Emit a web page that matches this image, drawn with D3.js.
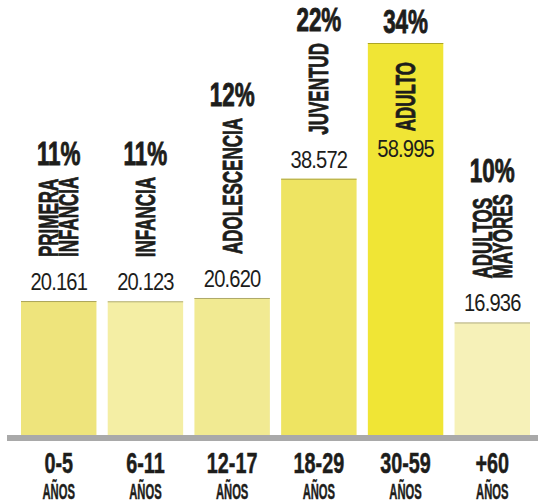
<!DOCTYPE html>
<html>
<head>
<meta charset="utf-8">
<script src="https://cdn.jsdelivr.net/npm/d3@7"></script>
<style>
  html, body { margin: 0; padding: 0; background: #fff; }
  svg { display: block; }
</style>
</head>
<body>
<div id="chart"></div>
<script>
// data
const categories = ["0-5", "6-11", "12-17", "18-29", "30-59", "+60"];
const groupNames = [["PRIMERA", "INFANCIA"], ["INFANCIA"], ["ADOLESCENCIA"], ["JUVENTUD"], ["ADULTO"], ["ADULTOS", "MAYORES"]];
const population = [20161, 20123, 20620, 38572, 58995, 16936];
const shares = [11, 11, 12, 22, 34, 10];
const unitLabel = "AÑOS";
const barColors = ["#eee47c", "#f4eea4", "#f1ea92", "#eee462", "#f0e535", "#f6f1b8"];

const width = 538;
const height = 504;
const ink = "#1d1d1b";
const font = "'Liberation Sans', Arial, sans-serif";

const fmt = d3.formatLocale({ decimal: ",", thousands: ".", grouping: [3], currency: ["", ""] }).format(",");

const svg = d3.select("#chart")
  .append("svg")
    .attr("width", width)
    .attr("height", height)
    .attr("font-family", font);

const x = d3.scaleBand()
  .domain(categories)
  .range([21, 530])
  .paddingInner(0.13);

const y = d3.scaleLinear()
  .domain([0, d3.max(population)])
  .range([435, 43]);

const data = categories.map((c, i) => ({
  cat: c, name: groupNames[i], value: population[i], share: shares[i], color: barColors[i]
}));

// bars
svg.append("g")
  .selectAll("rect")
  .data(data)
  .join("rect")
    .attr("x", d => x(d.cat))
    .attr("y", d => y(d.value))
    .attr("width", x.bandwidth())
    .attr("height", d => y(0) - y(d.value))
    .attr("fill", d => d.color);

// thin top edge on each bar
svg.append("g")
  .selectAll("line")
  .data(data)
  .join("line")
    .attr("x1", d => x(d.cat))
    .attr("x2", d => x(d.cat) + x.bandwidth())
    .attr("y1", d => y(d.value) + 0.5)
    .attr("y2", d => y(d.value) + 0.5)
    .attr("stroke", d => d3.color(d.color).darker(1.2))
    .attr("stroke-opacity", 0.8)
    .attr("stroke-width", 1);

// grey baseline
svg.append("rect")
  .attr("x", 7)
  .attr("y", y(0))
  .attr("width", width - 7)
  .attr("height", 6)
  .attr("fill", "#a9a9a9");

// x axis labels
const xAxis = svg.append("g")
  .selectAll("g")
  .data(data)
  .join("g")
    .attr("transform", d => `translate(${x(d.cat) + x.bandwidth() / 2},0)`);

xAxis.append("text")
  .attr("transform", "translate(0,473) scale(0.66,1)")
  .attr("text-anchor", "middle")
  .attr("font-size", 30)
  .attr("font-weight", 700)
  .attr("fill", ink)
  .attr("stroke", ink)
  .attr("stroke-width", 0.5)
  .text(d => d.cat);

xAxis.append("text")
  .attr("transform", "translate(0,499) scale(0.51,1)")
  .attr("text-anchor", "middle")
  .attr("font-size", 22)
  .attr("font-weight", 700)
  .attr("fill", ink)
  .attr("stroke", ink)
  .attr("stroke-width", 0.5)
  .text(unitLabel);

// labels stacked over each bar
const catScale = 0.63;
const catSize = 27;
const catCap = 19;
const lineStep = 20;

const labels = svg.append("g")
  .selectAll("g")
  .data(data)
  .join("g");

labels.each(function(d) {
  const g = d3.select(this);
  const cx = x(d.cat) + x.bandwidth() / 2;
  const top = y(d.value);

  const value = g.append("text")
    .attr("text-anchor", "middle")
    .attr("font-size", 24)
    .attr("letter-spacing", -1)
    .attr("fill", ink)
    .text(fmt(d.value));

  const nameG = g.append("g");
  const nameText = nameG.append("text")
    .attr("transform", `scale(${catScale},1)`)
    .attr("font-size", catSize)
    .attr("font-weight", 700)
    .attr("fill", ink)
    .attr("stroke", ink)
    .attr("stroke-width", 0.8);
  const n = d.name.length;
  const firstY = n === 1 ? catCap / 2 : (catCap - lineStep * (n - 1)) / 2;
  const spans = nameText.selectAll("tspan")
    .data(d.name)
    .join("tspan")
      .attr("x", 0)
      .attr("y", (t, j) => firstY + j * lineStep)
      .text(t => t);
  let len = 0;
  spans.each(function() { len = Math.max(len, this.getComputedTextLength()); });
  len *= catScale;

  const pct = g.append("text")
    .attr("text-anchor", "middle")
    .attr("font-size", 33)
    .attr("font-weight", 700)
    .attr("fill", ink)
    .attr("stroke", ink)
    .attr("stroke-width", 0.9)
    .text(d.share + "%");

  // stack above the bar; if it does not fit, put it inside
  let valueY = top - 11;
  let catBottom = valueY - 33;
  let catTop = catBottom - len;
  let pctY = catTop - 12;
  if (pctY - 26 < 0) {
    pctY = top - 10;
    catTop = pctY + 29;
    catBottom = catTop + len;
    valueY = catBottom + 26;
  }

  value.attr("transform", `translate(${cx},${valueY}) scale(0.84,1)`);
  nameG.attr("transform", `translate(${cx},${catBottom}) rotate(-90)`);
  pct.attr("transform", `translate(${cx},${pctY}) scale(0.68,1)`);
});
</script>
</body>
</html>
